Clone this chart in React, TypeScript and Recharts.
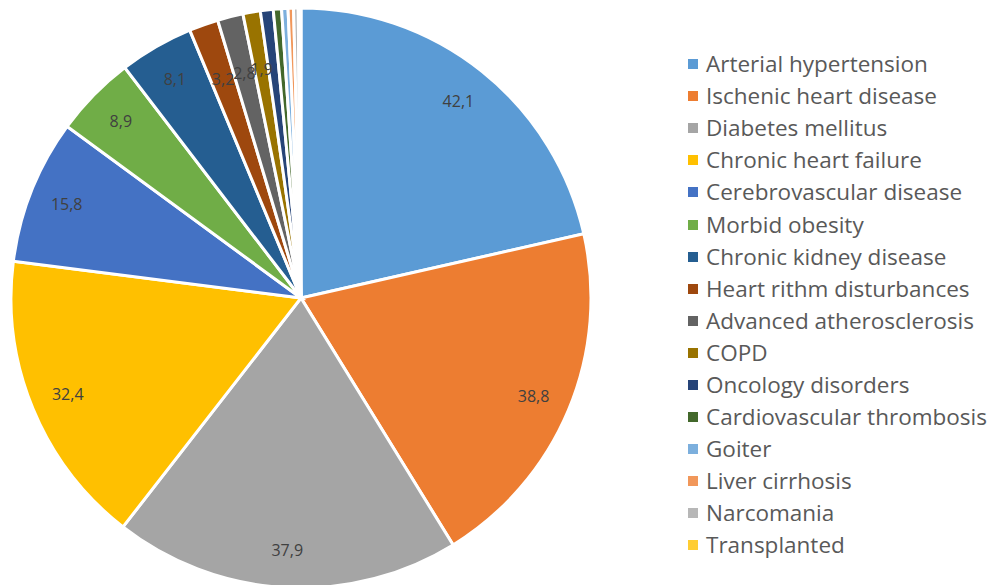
import React from 'react';
import { PieChart, Pie, Cell, Legend } from 'recharts';

const categories = [
  'Arterial hypertension',
  'Ischenic heart disease',
  'Diabetes mellitus',
  'Chronic heart failure',
  'Cerebrovascular disease',
  'Morbid obesity',
  'Chronic kidney disease',
  'Heart rithm disturbances',
  'Advanced atherosclerosis',
  'COPD',
  'Oncology disorders',
  'Cardiovascular thrombosis',
  'Goiter',
  'Liver cirrhosis',
  'Narcomania',
  'Transplanted',
];

const values = [42.1, 38.8, 37.9, 32.4, 15.8, 8.9, 8.1, 3.2, 2.8, 1.9, 1.4, 0.9, 0.7, 0.6, 0.5, 0.3];

const colors = [
  '#5B9BD5', '#ED7D31', '#A5A5A5', '#FFC000', '#4472C4', '#70AD47', '#255E91', '#9E480E',
  '#636363', '#997300', '#264478', '#43682B', '#7CAFDD', '#F1975A', '#B7B7B7', '#FFCD33',
];

const labelMin = 1.9;

const data = categories.map((name, i) => ({ name, value: values[i] }));

const RAD = Math.PI / 180;

const renderLabel = (props: any) => {
  const { cx, cy, midAngle, outerRadius, value } = props;
  if (value < labelMin) return null;
  const f = value < 5 ? 0.8 : 0.87;
  const r = outerRadius * f;
  const x = cx + r * Math.cos(-midAngle * RAD);
  const y = cy + r * Math.sin(-midAngle * RAD);
  return (
    <text
      x={x}
      y={y}
      fill="#404040"
      fontSize={16}
      fontFamily="'Open Sans', sans-serif"
      textAnchor="middle"
      dominantBaseline="central"
    >
      {value.toFixed(1).replace('.', ',')}
    </text>
  );
};

const renderLegend = () => (
  <div style={{ fontFamily: "'Open Sans', sans-serif" }}>
    {categories.map((name, i) => (
      <div key={name} style={{ display: 'flex', alignItems: 'center', height: 32.1 }}>
        <span style={{ width: 10, height: 10, background: colors[i], marginRight: 8, display: 'inline-block', flex: 'none' }} />
        <span style={{ fontSize: 22.5, color: '#595959', whiteSpace: 'nowrap', lineHeight: '32px' }}>{name}</span>
      </div>
    ))}
  </div>
);

export default function App() {
  return (
    <div style={{ position: 'absolute', left: 0, top: 0, width: 992, height: 585, background: '#fff', overflow: 'hidden' }}>
      <PieChart width={992} height={585} margin={{ top: 0, right: 0, bottom: 0, left: 0 }}>
        <Pie
          data={data}
          dataKey="value"
          nameKey="name"
          cx={301}
          cy={298}
          outerRadius={290}
          startAngle={90}
          endAngle={-270}
          stroke="#ffffff"
          strokeWidth={3}
          label={renderLabel}
          labelLine={false}
          isAnimationActive={false}
        >
          {data.map((d, i) => (
            <Cell key={d.name} fill={colors[i]} />
          ))}
        </Pie>
        <Legend
          layout="vertical"
          content={renderLegend}
          wrapperStyle={{ left: 688, top: 48, width: 304 }}
        />
      </PieChart>
    </div>
  );
}
